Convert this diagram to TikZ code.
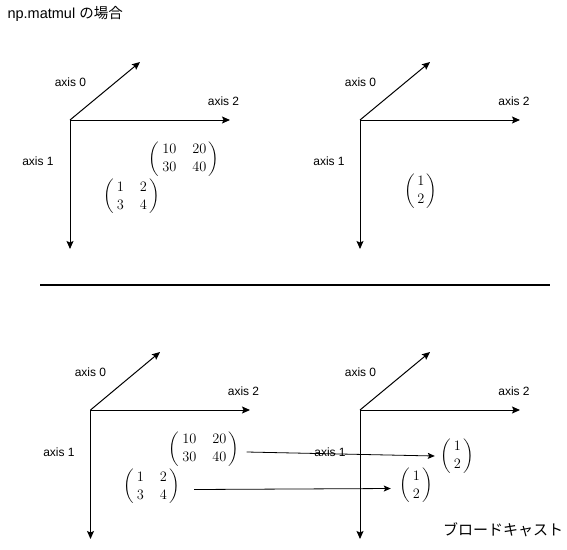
\documentclass[tikz,border=0pt]{standalone}
\usepackage{amsmath}
\usepackage{fontspec}
\setmainfont{Liberation Sans}
\newfontfamily\jpfont{Noto Sans CJK JP}
\usetikzlibrary{arrows.meta}

\begin{document}
\begin{tikzpicture}[x=1pt, y=-1pt, font=\fontsize{12}{14}\selectfont]
	\tikzstyle{axis}=[line width=1pt, -{Stealth[length=8pt, width=7pt, inset=1.5pt]}]
	\tikzstyle{bcast}=[line width=0.8pt, -{Stealth[length=7pt, width=6pt, inset=1.5pt]}]
	\tikzstyle{mat}=[inner sep=0pt, font=\fontsize{15}{18}\selectfont]
	\useasboundingbox (0, 0) rectangle (567, 549);
	
	\draw node[anchor=west] at (4, 14) (title) {\fontsize{14.5}{17}\selectfont np.matmul {\jpfont の場合}};
	
	% upper left
	\coordinate (o1) at (70, 120);
	\coordinate (x1) at (140, 62);
	\coordinate (y1) at (70, 249);
	\coordinate (z1) at (230, 120);
	\draw [axis] (o1) -- (x1);
	\draw [axis] (o1) -- (y1);
	\draw [axis] (o1) -- (z1);
	\draw node at (70.5, 82) (ax01) {axis 0};
	\draw node at (38, 161) (ax11) {axis 1};
	\draw node at (223.5, 101) (ax21) {axis 2};
	\draw node[mat] at (184, 159) (b1) {$\setlength{\arraycolsep}{8pt}\begin{pmatrix}\mkern4mu 10 & 20\mkern3mu \\ \mkern4mu 30 & 40\mkern3mu \end{pmatrix}$};
	\draw node[mat] at (131.5, 196.5) (a1) {$\setlength{\arraycolsep}{8pt}\begin{pmatrix}\mkern4mu 1 & 2\mkern3mu \\ \mkern4mu 3 & 4\mkern3mu \end{pmatrix}$};
	
	% upper right
	\coordinate (o2) at (360, 120);
	\coordinate (x2) at (430, 62);
	\coordinate (y2) at (360, 249);
	\coordinate (z2) at (520, 120);
	\draw [axis] (o2) -- (x2);
	\draw [axis] (o2) -- (y2);
	\draw [axis] (o2) -- (z2);
	\draw node at (360.5, 82) (ax02) {axis 0};
	\draw node at (329, 161) (ax12) {axis 1};
	\draw node at (514, 101) (ax22) {axis 2};
	\draw node[mat] at (421, 191) (v2) {$\begin{pmatrix}\mkern3mu 1\mkern3mu \\ \mkern3mu 2\mkern3mu \end{pmatrix}$};
	
	% separator
	\coordinate (s1) at (40, 285);
	\coordinate (s2) at (550, 285);
	\draw [line width=2pt] (s1) -- (s2);
	
	% lower left
	\coordinate (o3) at (90.5, 410);
	\coordinate (x3) at (160, 352);
	\coordinate (y3) at (90.5, 539);
	\coordinate (z3) at (250, 410);
	\draw [axis] (o3) -- (x3);
	\draw [axis] (o3) -- (y3);
	\draw [axis] (o3) -- (z3);
	\draw node at (90.5, 372) (ax03) {axis 0};
	\draw node at (59, 452) (ax13) {axis 1};
	\draw node at (243.5, 391) (ax23) {axis 2};
	\draw node[mat] at (204, 449) (b3) {$\setlength{\arraycolsep}{8pt}\begin{pmatrix}\mkern4mu 10 & 20\mkern3mu \\ \mkern4mu 30 & 40\mkern3mu \end{pmatrix}$};
	\draw node[mat] at (151.5, 486.5) (a3) {$\setlength{\arraycolsep}{8pt}\begin{pmatrix}\mkern4mu 1 & 2\mkern3mu \\ \mkern4mu 3 & 4\mkern3mu \end{pmatrix}$};
	
	% lower right
	\coordinate (o4) at (360, 410);
	\coordinate (x4) at (430, 352);
	\coordinate (y4) at (360, 539);
	\coordinate (z4) at (520, 410);
	\draw [axis] (o4) -- (x4);
	\draw [axis] (o4) -- (y4);
	\draw [axis] (o4) -- (z4);
	\draw node at (360.5, 372) (ax04) {axis 0};
	\draw node at (330, 452) (ax14) {axis 1};
	\draw node at (514, 391) (ax24) {axis 2};
	\draw node[mat] at (457.5, 456) (v4) {$\begin{pmatrix}\mkern3mu 1\mkern3mu \\ \mkern3mu 2\mkern3mu \end{pmatrix}$};
	\draw node[mat] at (416.5, 485.5) (w4) {$\begin{pmatrix}\mkern3mu 1\mkern3mu \\ \mkern3mu 2\mkern3mu \end{pmatrix}$};
	
	\draw [bcast] (b3.east) ++(7, 3) coordinate (p1) -- ([xshift=-6pt]v4.west);
	\draw [bcast] (a3.east) ++(14, 3) coordinate (p2) -- ([xshift=-9pt, yshift=-3pt]w4.west);
	
	\draw node at (503, 530) (bc) {\jpfont\fontsize{15}{17}\selectfont ブロードキャスト};
\end{tikzpicture}
\end{document}
